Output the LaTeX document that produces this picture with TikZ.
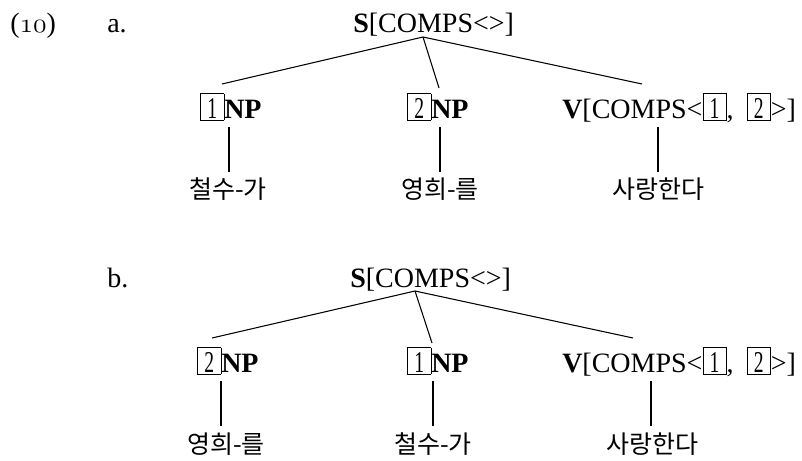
\documentclass[tikz,border=0pt]{standalone}
\usepackage{fontspec}
\usepackage{graphicx}
\newfontfamily\tnr{Liberation Serif}
\newfontfamily\kr{Noto Sans CJK KR}
\newcommand\osn[1]{{\fontencoding{OML}\fontfamily{cmm}\fontseries{m}\fontshape{it}\selectfont #1}}
\newcommand\tagbox[1]{{\setlength\fboxsep{1pt}\setlength\fboxrule{0.5pt}\fbox{\rule[-0.5pt]{0pt}{17.5pt}\makebox[15pt]{\scalebox{0.7}[1.08]{\fontseries{m}\selectfont #1}}}}}
\tikzset{
  lbl/.style={inner sep=0pt, anchor=base west, font=\tnr\fontsize{21}{25}\selectfont},
  cat/.style={inner sep=0pt, anchor=base west, font=\tnr\fontsize{21}{25}\selectfont},
  word/.style={inner sep=0pt, anchor=center, font=\kr\fontsize{18.75}{22}\selectfont},
  edge/.style={line width=0.8pt}
}
\begin{document}
\begin{tikzpicture}[x=0.75pt, y=-0.75pt]
\useasboundingbox (0,0) rectangle (802,460);
% labels
\node[lbl] (ex) at (10,33) {(\osn{10})};
\node[lbl] (la) at (107,33) {a.};
\node[lbl] (lb) at (107,287) {b.};
% tree a
\node[cat] (Sa) at (353,33) {\textbf{S}[COMPS<>]};
\node[cat] (NPa1) at (200,118) {\tagbox{1}\textbf{NP}};
\node[cat] (NPa2) at (407,118) {\tagbox{2}\textbf{NP}};
\node[cat] (Va) at (562,118) {\textbf{V}[COMPS<\tagbox{1},\hspace{10pt}\tagbox{2}>]};
\node[word] (Wa1) at (228,189) {철수-가};
\node[word] (Wa2) at (440,189) {영희-를};
\node[word] (Wa3) at (658,189) {사랑한다};
\coordinate (apa) at (423,37);
\coordinate (ea1) at (222,84);
\coordinate (ea2) at (439,88);
\coordinate (ea3) at (642,84);
\coordinate (ta1) at (229,127); \coordinate (ba1) at (229,172);
\coordinate (ta2) at (440,127); \coordinate (ba2) at (440,172);
\coordinate (ta3) at (658,127); \coordinate (ba3) at (658,172);
\draw[edge] (apa) -- (ea1);
\draw[edge] (apa) -- (ea2);
\draw[edge] (apa) -- (ea3);
\draw[edge] (ta1) -- (ba1);
\draw[edge] (ta2) -- (ba2);
\draw[edge] (ta3) -- (ba3);
% tree b
\node[cat] (Sb) at (350,287) {\textbf{S}[COMPS<>]};
\node[cat] (NPb1) at (197,372) {\tagbox{2}\textbf{NP}};
\node[cat] (NPb2) at (407,372) {\tagbox{1}\textbf{NP}};
\node[cat] (Vb) at (562,372) {\textbf{V}[COMPS<\tagbox{1},\hspace{10pt}\tagbox{2}>]};
\node[word] (Wb1) at (226,444) {영희-를};
\node[word] (Wb2) at (433,444) {철수-가};
\node[word] (Wb3) at (652,444) {사랑한다};
\coordinate (apb) at (415,291);
\coordinate (eb1) at (212,338);
\coordinate (eb2) at (432,343);
\coordinate (eb3) at (633,338);
\coordinate (tb1) at (221,381); \coordinate (bb1) at (221,426);
\coordinate (tb2) at (433,381); \coordinate (bb2) at (433,426);
\coordinate (tb3) at (651,381); \coordinate (bb3) at (651,426);
\draw[edge] (apb) -- (eb1);
\draw[edge] (apb) -- (eb2);
\draw[edge] (apb) -- (eb3);
\draw[edge] (tb1) -- (bb1);
\draw[edge] (tb2) -- (bb2);
\draw[edge] (tb3) -- (bb3);
\end{tikzpicture}
\end{document}
